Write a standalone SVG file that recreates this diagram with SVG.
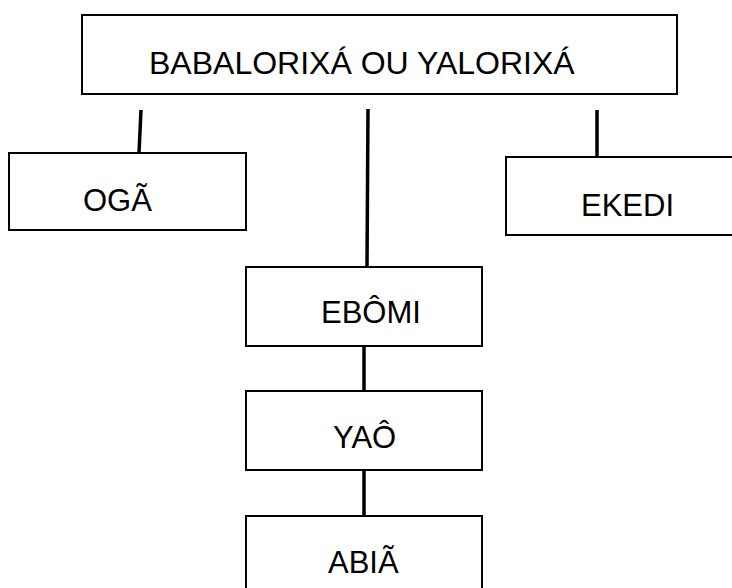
<svg xmlns="http://www.w3.org/2000/svg" width="732" height="588" viewBox="0 0 732 588">
<style>
.box{fill:#fff;stroke:#000;stroke-width:2}
.lbl{font-family:"Liberation Sans",Arial,sans-serif;font-size:31px;fill:#000}
.big{font-size:32px}
.con{stroke:#000;stroke-width:3.5;fill:none}
</style>
<rect width="732" height="588" fill="#fff"/>
<g id="connectors">
<line class="con" x1="141" y1="110" x2="139" y2="153"/>
<line class="con" x1="368" y1="109" x2="367" y2="267"/>
<line class="con" x1="597" y1="110" x2="597" y2="157"/>
<line class="con" x1="364" y1="346" x2="364" y2="391"/>
<line class="con" x1="364" y1="470" x2="364" y2="516"/>
</g>
<g id="babalorixa">
<rect class="box" x="82" y="15" width="595" height="79"/>
<text class="lbl big" x="149" y="74">BABALORIXÁ OU YALORIXÁ</text>
</g>
<g id="oga">
<rect class="box" x="9" y="153" width="237" height="77"/>
<text class="lbl" x="83" y="211">OGÃ</text>
</g>
<g id="ekedi">
<rect class="box" x="506" y="157" width="240" height="78"/>
<text class="lbl" x="581" y="216">EKEDI</text>
</g>
<g id="ebomi">
<rect class="box" x="246" y="267" width="236" height="79"/>
<text class="lbl" x="321" y="323">EBÔMI</text>
</g>
<g id="yao">
<rect class="box" x="246" y="391" width="236" height="79"/>
<text class="lbl" x="333" y="448">YAÔ</text>
</g>
<g id="abia">
<rect class="box" x="246" y="516" width="236" height="90"/>
<text class="lbl" x="328" y="573">ABIÃ</text>
</g>
</svg>
